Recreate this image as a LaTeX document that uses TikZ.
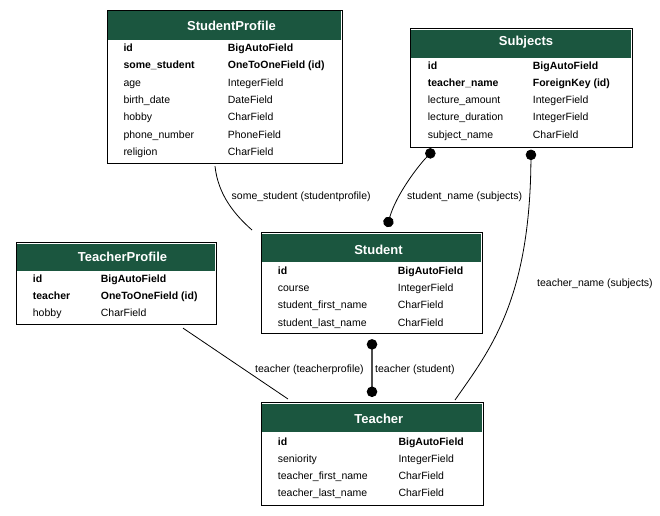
\documentclass[tikz,border=0pt]{standalone}
\usepackage{fontspec}
\setmainfont{Liberation Sans}
\usetikzlibrary{arrows.meta,calc}
\definecolor{hdrgreen}{HTML}{1B563F}
\tikzset{
  tbox/.style={draw=black, line width=1.1pt, inner sep=0pt, anchor=north west},
  hdrbox/.style={fill=hdrgreen, inner sep=0pt, anchor=north west},
  ttl/.style={text=white, font=\fontsize{13}{15}\selectfont\bfseries, inner sep=0pt, anchor=base},
  fld/.style={font=\fontsize{10.5}{12}\selectfont, inner sep=0pt, anchor=base west},
  keyfld/.style={fld, font=\fontsize{10.5}{12}\selectfont\bfseries},
  rel/.style={draw=black, line width=0.8pt},
  relgray/.style={draw=black!70, line width=1.4pt},
  lbl/.style={font=\fontsize{10.5}{12}\selectfont, inner sep=0pt, anchor=west},
  dotboth/.style={{Circle[length=10.5pt,color=black]}-{Circle[length=10.5pt,color=black]}},
  dotstart/.style={{Circle[length=10.5pt,color=black]}-},
}
\begin{document}
\begin{tikzpicture}[x=1pt,y=-1pt]
\fill[white] (0,0) rectangle (660,515);
\useasboundingbox (0,0) rectangle (660,515);

% ---------- StudentProfile ----------
\node[hdrbox, minimum width=233pt, minimum height=28.5pt] (SPh) at (108,11) {};
\node[tbox, minimum width=235pt, minimum height=153.5pt] (SP) at (107,9.5) {};
\node[ttl] (SPt) at (231.5,30.2) {StudentProfile};
\node[keyfld] at (123.3,51.5) {id};            \node[keyfld] at (227.7,51.5) {BigAutoField};
\node[keyfld] at (123.3,68.8) {some\_student};  \node[keyfld] at (227.7,68.8) {OneToOneField (id)};
\node[fld] at (123.3,86.1) {age};              \node[fld] at (227.7,86.1) {IntegerField};
\node[fld] at (123.3,103.4) {birth\_date};     \node[fld] at (227.7,103.4) {DateField};
\node[fld] at (123.3,120.7) {hobby};           \node[fld] at (227.7,120.7) {CharField};
\node[fld] at (123.3,138) {phone\_number};     \node[fld] at (227.7,138) {PhoneField};
\node[fld] at (123.3,155.3) {religion};        \node[fld] at (227.7,155.3) {CharField};

% ---------- Subjects ----------
\node[hdrbox, minimum width=220pt, minimum height=28pt] (SUh) at (411,29.5) {};
\node[tbox, minimum width=222pt, minimum height=118.5pt] (SU) at (410,28) {};
\node[ttl] (SUt) at (526,45.8) {Subjects};
\node[keyfld] at (427.7,69.3) {id};              \node[keyfld] at (532.7,69.3) {BigAutoField};
\node[keyfld] at (427.7,86.5) {teacher\_name};   \node[keyfld] at (532.7,86.5) {ForeignKey (id)};
\node[fld] at (427.7,103.7) {lecture\_amount};   \node[fld] at (532.7,103.7) {IntegerField};
\node[fld] at (427.7,120.9) {lecture\_duration}; \node[fld] at (532.7,120.9) {IntegerField};
\node[fld] at (427.7,138.1) {subject\_name};     \node[fld] at (532.7,138.1) {CharField};

% ---------- TeacherProfile ----------
\node[hdrbox, minimum width=198pt, minimum height=27.5pt] (TPh) at (17,243.5) {};
\node[tbox, minimum width=200pt, minimum height=82pt] (TP) at (16,242) {};
\node[ttl] (TPt) at (122.5,261.3) {TeacherProfile};
\node[keyfld] at (32.7,282) {id};        \node[keyfld] at (100.7,282) {BigAutoField};
\node[keyfld] at (32.7,299.3) {teacher}; \node[keyfld] at (100.7,299.3) {OneToOneField (id)};
\node[fld] at (32.7,316.6) {hobby};      \node[fld] at (100.7,316.6) {CharField};

% ---------- Student ----------
\node[hdrbox, minimum width=219pt, minimum height=28pt] (STh) at (262,233.5) {};
\node[tbox, minimum width=221pt, minimum height=101pt] (ST) at (261,232) {};
\node[ttl] (STt) at (378.5,254.3) {Student};
\node[keyfld] at (277.7,274.4) {id};                \node[keyfld] at (397.7,274.4) {BigAutoField};
\node[fld] at (277.7,291.6) {course};               \node[fld] at (397.7,291.6) {IntegerField};
\node[fld] at (277.7,308.8) {student\_first\_name}; \node[fld] at (397.7,308.8) {CharField};
\node[fld] at (277.7,326) {student\_last\_name};    \node[fld] at (397.7,326) {CharField};

% ---------- Teacher ----------
\node[hdrbox, minimum width=220pt, minimum height=28.5pt] (TEh) at (262,403.5) {};
\node[tbox, minimum width=222pt, minimum height=102.5pt] (TE) at (261,402) {};
\node[ttl] (TEt) at (378.8,423.7) {Teacher};
\node[keyfld] at (277.7,445) {id};                  \node[keyfld] at (398.3,445) {BigAutoField};
\node[fld] at (277.7,462.3) {seniority};            \node[fld] at (398.3,462.3) {IntegerField};
\node[fld] at (277.7,479.6) {teacher\_first\_name}; \node[fld] at (398.3,479.6) {CharField};
\node[fld] at (277.7,496.9) {teacher\_last\_name};  \node[fld] at (398.3,496.9) {CharField};

% ---------- connectors ----------
\draw[rel] ($(SP.south west)+(108,2)$) .. controls (218,195) and (235,215) .. ($(ST.north west)+(-9,-2)$);
\draw[rel, dotboth] ($(SU.south west)+(24,2)$) .. controls (418,166) and (396,195) .. ($(ST.north west)+(126,-5)$);
\draw[rel, dotstart] ($(SU.south west)+(121,2)$) .. controls (530,300) and (490,350) .. ($(TE.north west)+(194,-2)$);
\draw[rel] ($(TP.south west)+(167,3)$) -- ($(TE.north west)+(27,-3)$);
\draw[relgray, dotboth] ($(ST.south west)+(111,5)$) -- ($(TE.north west)+(111,-5)$);

% ---------- labels ----------
\node[lbl] (L1) at (231.5,197) {some\_student (studentprofile)};
\node[lbl] (L2) at (407,197) {student\_name (subjects)};
\node[lbl] (L3) at (537,284) {teacher\_name (subjects)};
\node[lbl] (L4) at (255,369.5) {teacher (teacherprofile)};
\node[lbl] (L5) at (375,369.5) {teacher (student)};
\end{tikzpicture}
\end{document}
